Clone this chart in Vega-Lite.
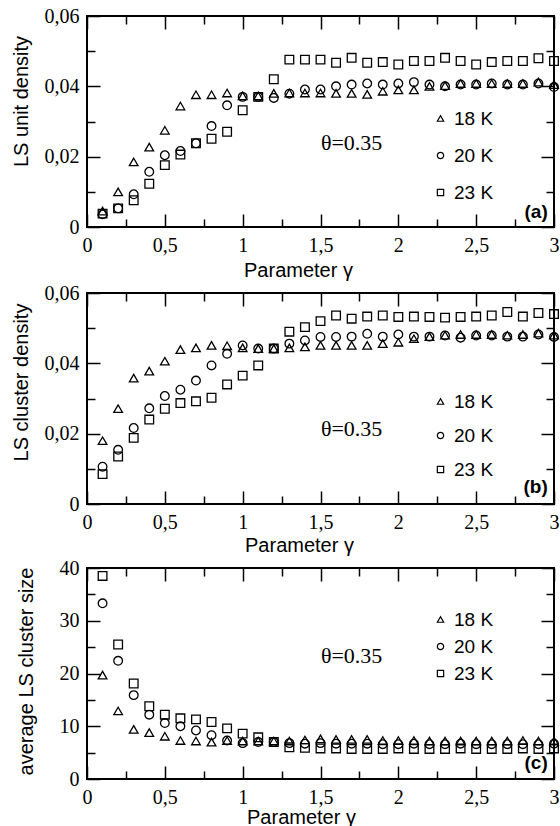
{
"$schema": "https://vega.github.io/schema/vega-lite/v6.json",
"background": "white",
"padding": {"left": 10, "top": 5, "right": 5, "bottom": 5},
"spacing": 1,
"datasets": {
"a": [
{"x":0.1,"y":0.0045,"s":"18 K"},{"x":0.2,"y":0.0100,"s":"18 K"},{"x":0.3,"y":0.0185,"s":"18 K"},{"x":0.4,"y":0.0227,"s":"18 K"},{"x":0.5,"y":0.0275,"s":"18 K"},{"x":0.6,"y":0.0344,"s":"18 K"},{"x":0.7,"y":0.0376,"s":"18 K"},{"x":0.8,"y":0.0376,"s":"18 K"},{"x":0.9,"y":0.0381,"s":"18 K"},{"x":1.0,"y":0.0373,"s":"18 K"},{"x":1.1,"y":0.0373,"s":"18 K"},{"x":1.2,"y":0.0380,"s":"18 K"},{"x":1.3,"y":0.0381,"s":"18 K"},{"x":1.4,"y":0.0381,"s":"18 K"},{"x":1.5,"y":0.0381,"s":"18 K"},{"x":1.6,"y":0.0380,"s":"18 K"},{"x":1.7,"y":0.0380,"s":"18 K"},{"x":1.8,"y":0.0377,"s":"18 K"},{"x":1.9,"y":0.0386,"s":"18 K"},{"x":2.0,"y":0.0390,"s":"18 K"},{"x":2.1,"y":0.0390,"s":"18 K"},{"x":2.2,"y":0.0400,"s":"18 K"},{"x":2.3,"y":0.0402,"s":"18 K"},{"x":2.4,"y":0.0408,"s":"18 K"},{"x":2.5,"y":0.0408,"s":"18 K"},{"x":2.6,"y":0.0408,"s":"18 K"},{"x":2.7,"y":0.0408,"s":"18 K"},{"x":2.8,"y":0.0408,"s":"18 K"},{"x":2.9,"y":0.0412,"s":"18 K"},{"x":3.0,"y":0.0405,"s":"18 K"},
{"x":0.1,"y":0.0036,"s":"20 K"},{"x":0.2,"y":0.0053,"s":"20 K"},{"x":0.3,"y":0.0093,"s":"20 K"},{"x":0.4,"y":0.0157,"s":"20 K"},{"x":0.5,"y":0.0204,"s":"20 K"},{"x":0.6,"y":0.0216,"s":"20 K"},{"x":0.7,"y":0.0238,"s":"20 K"},{"x":0.8,"y":0.0287,"s":"20 K"},{"x":0.9,"y":0.0346,"s":"20 K"},{"x":1.0,"y":0.0370,"s":"20 K"},{"x":1.1,"y":0.0370,"s":"20 K"},{"x":1.2,"y":0.0367,"s":"20 K"},{"x":1.3,"y":0.0379,"s":"20 K"},{"x":1.4,"y":0.0391,"s":"20 K"},{"x":1.5,"y":0.0391,"s":"20 K"},{"x":1.6,"y":0.0400,"s":"20 K"},{"x":1.7,"y":0.0405,"s":"20 K"},{"x":1.8,"y":0.0408,"s":"20 K"},{"x":1.9,"y":0.0405,"s":"20 K"},{"x":2.0,"y":0.0408,"s":"20 K"},{"x":2.1,"y":0.0412,"s":"20 K"},{"x":2.2,"y":0.0405,"s":"20 K"},{"x":2.3,"y":0.0400,"s":"20 K"},{"x":2.4,"y":0.0405,"s":"20 K"},{"x":2.5,"y":0.0405,"s":"20 K"},{"x":2.6,"y":0.0408,"s":"20 K"},{"x":2.7,"y":0.0405,"s":"20 K"},{"x":2.8,"y":0.0405,"s":"20 K"},{"x":2.9,"y":0.0408,"s":"20 K"},{"x":3.0,"y":0.0398,"s":"20 K"},
{"x":0.1,"y":0.0038,"s":"23 K"},{"x":0.2,"y":0.0053,"s":"23 K"},{"x":0.3,"y":0.0076,"s":"23 K"},{"x":0.4,"y":0.0123,"s":"23 K"},{"x":0.5,"y":0.0176,"s":"23 K"},{"x":0.6,"y":0.0206,"s":"23 K"},{"x":0.7,"y":0.0238,"s":"23 K"},{"x":0.8,"y":0.0251,"s":"23 K"},{"x":0.9,"y":0.0271,"s":"23 K"},{"x":1.0,"y":0.0332,"s":"23 K"},{"x":1.1,"y":0.0370,"s":"23 K"},{"x":1.2,"y":0.0420,"s":"23 K"},{"x":1.3,"y":0.0476,"s":"23 K"},{"x":1.4,"y":0.0476,"s":"23 K"},{"x":1.5,"y":0.0476,"s":"23 K"},{"x":1.6,"y":0.0467,"s":"23 K"},{"x":1.7,"y":0.0481,"s":"23 K"},{"x":1.8,"y":0.0467,"s":"23 K"},{"x":1.9,"y":0.0469,"s":"23 K"},{"x":2.0,"y":0.0462,"s":"23 K"},{"x":2.1,"y":0.0472,"s":"23 K"},{"x":2.2,"y":0.0472,"s":"23 K"},{"x":2.3,"y":0.0481,"s":"23 K"},{"x":2.4,"y":0.0472,"s":"23 K"},{"x":2.5,"y":0.0462,"s":"23 K"},{"x":2.6,"y":0.0469,"s":"23 K"},{"x":2.7,"y":0.0472,"s":"23 K"},{"x":2.8,"y":0.0472,"s":"23 K"},{"x":2.9,"y":0.0480,"s":"23 K"},{"x":3.0,"y":0.0472,"s":"23 K"}
],
"b": [
{"x":0.1,"y":0.0180,"s":"18 K"},{"x":0.2,"y":0.0271,"s":"18 K"},{"x":0.3,"y":0.0358,"s":"18 K"},{"x":0.4,"y":0.0378,"s":"18 K"},{"x":0.5,"y":0.0406,"s":"18 K"},{"x":0.6,"y":0.0439,"s":"18 K"},{"x":0.7,"y":0.0444,"s":"18 K"},{"x":0.8,"y":0.0451,"s":"18 K"},{"x":0.9,"y":0.0450,"s":"18 K"},{"x":1.0,"y":0.0444,"s":"18 K"},{"x":1.1,"y":0.0442,"s":"18 K"},{"x":1.2,"y":0.0442,"s":"18 K"},{"x":1.3,"y":0.0444,"s":"18 K"},{"x":1.4,"y":0.0447,"s":"18 K"},{"x":1.5,"y":0.0451,"s":"18 K"},{"x":1.6,"y":0.0451,"s":"18 K"},{"x":1.7,"y":0.0451,"s":"18 K"},{"x":1.8,"y":0.0451,"s":"18 K"},{"x":1.9,"y":0.0456,"s":"18 K"},{"x":2.0,"y":0.0460,"s":"18 K"},{"x":2.1,"y":0.0470,"s":"18 K"},{"x":2.2,"y":0.0476,"s":"18 K"},{"x":2.3,"y":0.0480,"s":"18 K"},{"x":2.4,"y":0.0482,"s":"18 K"},{"x":2.5,"y":0.0482,"s":"18 K"},{"x":2.6,"y":0.0482,"s":"18 K"},{"x":2.7,"y":0.0480,"s":"18 K"},{"x":2.8,"y":0.0482,"s":"18 K"},{"x":2.9,"y":0.0486,"s":"18 K"},{"x":3.0,"y":0.0480,"s":"18 K"},
{"x":0.1,"y":0.0106,"s":"20 K"},{"x":0.2,"y":0.0154,"s":"20 K"},{"x":0.3,"y":0.0216,"s":"20 K"},{"x":0.4,"y":0.0272,"s":"20 K"},{"x":0.5,"y":0.0307,"s":"20 K"},{"x":0.6,"y":0.0325,"s":"20 K"},{"x":0.7,"y":0.0351,"s":"20 K"},{"x":0.8,"y":0.0394,"s":"20 K"},{"x":0.9,"y":0.0427,"s":"20 K"},{"x":1.0,"y":0.0451,"s":"20 K"},{"x":1.1,"y":0.0442,"s":"20 K"},{"x":1.2,"y":0.0442,"s":"20 K"},{"x":1.3,"y":0.0456,"s":"20 K"},{"x":1.4,"y":0.0465,"s":"20 K"},{"x":1.5,"y":0.0475,"s":"20 K"},{"x":1.6,"y":0.0475,"s":"20 K"},{"x":1.7,"y":0.0476,"s":"20 K"},{"x":1.8,"y":0.0484,"s":"20 K"},{"x":1.9,"y":0.0476,"s":"20 K"},{"x":2.0,"y":0.0482,"s":"20 K"},{"x":2.1,"y":0.0476,"s":"20 K"},{"x":2.2,"y":0.0476,"s":"20 K"},{"x":2.3,"y":0.0479,"s":"20 K"},{"x":2.4,"y":0.0473,"s":"20 K"},{"x":2.5,"y":0.0479,"s":"20 K"},{"x":2.6,"y":0.0479,"s":"20 K"},{"x":2.7,"y":0.0476,"s":"20 K"},{"x":2.8,"y":0.0476,"s":"20 K"},{"x":2.9,"y":0.0482,"s":"20 K"},{"x":3.0,"y":0.0475,"s":"20 K"},
{"x":0.1,"y":0.0085,"s":"23 K"},{"x":0.2,"y":0.0135,"s":"23 K"},{"x":0.3,"y":0.0188,"s":"23 K"},{"x":0.4,"y":0.0240,"s":"23 K"},{"x":0.5,"y":0.0271,"s":"23 K"},{"x":0.6,"y":0.0287,"s":"23 K"},{"x":0.7,"y":0.0292,"s":"23 K"},{"x":0.8,"y":0.0302,"s":"23 K"},{"x":0.9,"y":0.0340,"s":"23 K"},{"x":1.0,"y":0.0365,"s":"23 K"},{"x":1.1,"y":0.0394,"s":"23 K"},{"x":1.2,"y":0.0442,"s":"23 K"},{"x":1.3,"y":0.0490,"s":"23 K"},{"x":1.4,"y":0.0503,"s":"23 K"},{"x":1.5,"y":0.0520,"s":"23 K"},{"x":1.6,"y":0.0536,"s":"23 K"},{"x":1.7,"y":0.0527,"s":"23 K"},{"x":1.8,"y":0.0533,"s":"23 K"},{"x":1.9,"y":0.0536,"s":"23 K"},{"x":2.0,"y":0.0532,"s":"23 K"},{"x":2.1,"y":0.0533,"s":"23 K"},{"x":2.2,"y":0.0532,"s":"23 K"},{"x":2.3,"y":0.0530,"s":"23 K"},{"x":2.4,"y":0.0532,"s":"23 K"},{"x":2.5,"y":0.0533,"s":"23 K"},{"x":2.6,"y":0.0536,"s":"23 K"},{"x":2.7,"y":0.0546,"s":"23 K"},{"x":2.8,"y":0.0533,"s":"23 K"},{"x":2.9,"y":0.0543,"s":"23 K"},{"x":3.0,"y":0.0540,"s":"23 K"}
],
"c": [
{"x":0.1,"y":19.7,"s":"18 K"},{"x":0.2,"y":12.9,"s":"18 K"},{"x":0.3,"y":9.4,"s":"18 K"},{"x":0.4,"y":8.8,"s":"18 K"},{"x":0.5,"y":8.1,"s":"18 K"},{"x":0.6,"y":7.3,"s":"18 K"},{"x":0.7,"y":7.2,"s":"18 K"},{"x":0.8,"y":7.0,"s":"18 K"},{"x":0.9,"y":7.3,"s":"18 K"},{"x":1.0,"y":7.2,"s":"18 K"},{"x":1.1,"y":7.2,"s":"18 K"},{"x":1.2,"y":7.2,"s":"18 K"},{"x":1.3,"y":7.2,"s":"18 K"},{"x":1.4,"y":7.4,"s":"18 K"},{"x":1.5,"y":7.6,"s":"18 K"},{"x":1.6,"y":7.5,"s":"18 K"},{"x":1.7,"y":7.5,"s":"18 K"},{"x":1.8,"y":7.5,"s":"18 K"},{"x":1.9,"y":7.3,"s":"18 K"},{"x":2.0,"y":7.3,"s":"18 K"},{"x":2.1,"y":7.3,"s":"18 K"},{"x":2.2,"y":7.2,"s":"18 K"},{"x":2.3,"y":7.2,"s":"18 K"},{"x":2.4,"y":7.2,"s":"18 K"},{"x":2.5,"y":7.2,"s":"18 K"},{"x":2.6,"y":7.2,"s":"18 K"},{"x":2.7,"y":7.2,"s":"18 K"},{"x":2.8,"y":7.3,"s":"18 K"},{"x":2.9,"y":7.2,"s":"18 K"},{"x":3.0,"y":7.2,"s":"18 K"},
{"x":0.1,"y":33.3,"s":"20 K"},{"x":0.2,"y":22.4,"s":"20 K"},{"x":0.3,"y":15.9,"s":"20 K"},{"x":0.4,"y":12.2,"s":"20 K"},{"x":0.5,"y":10.6,"s":"20 K"},{"x":0.6,"y":10.0,"s":"20 K"},{"x":0.7,"y":9.2,"s":"20 K"},{"x":0.8,"y":8.3,"s":"20 K"},{"x":0.9,"y":7.3,"s":"20 K"},{"x":1.0,"y":6.8,"s":"20 K"},{"x":1.1,"y":7.0,"s":"20 K"},{"x":1.2,"y":7.0,"s":"20 K"},{"x":1.3,"y":6.8,"s":"20 K"},{"x":1.4,"y":6.7,"s":"20 K"},{"x":1.5,"y":6.8,"s":"20 K"},{"x":1.6,"y":6.7,"s":"20 K"},{"x":1.7,"y":6.7,"s":"20 K"},{"x":1.8,"y":6.7,"s":"20 K"},{"x":1.9,"y":6.6,"s":"20 K"},{"x":2.0,"y":6.6,"s":"20 K"},{"x":2.1,"y":6.7,"s":"20 K"},{"x":2.2,"y":6.6,"s":"20 K"},{"x":2.3,"y":6.6,"s":"20 K"},{"x":2.4,"y":6.7,"s":"20 K"},{"x":2.5,"y":6.6,"s":"20 K"},{"x":2.6,"y":6.6,"s":"20 K"},{"x":2.7,"y":6.6,"s":"20 K"},{"x":2.8,"y":6.6,"s":"20 K"},{"x":2.9,"y":6.6,"s":"20 K"},{"x":3.0,"y":6.7,"s":"20 K"},
{"x":0.1,"y":38.5,"s":"23 K"},{"x":0.2,"y":25.5,"s":"23 K"},{"x":0.3,"y":18.1,"s":"23 K"},{"x":0.4,"y":13.8,"s":"23 K"},{"x":0.5,"y":12.2,"s":"23 K"},{"x":0.6,"y":11.5,"s":"23 K"},{"x":0.7,"y":11.3,"s":"23 K"},{"x":0.8,"y":10.8,"s":"23 K"},{"x":0.9,"y":9.6,"s":"23 K"},{"x":1.0,"y":8.6,"s":"23 K"},{"x":1.1,"y":7.9,"s":"23 K"},{"x":1.2,"y":7.0,"s":"23 K"},{"x":1.3,"y":6.0,"s":"23 K"},{"x":1.4,"y":5.9,"s":"23 K"},{"x":1.5,"y":5.8,"s":"23 K"},{"x":1.6,"y":5.8,"s":"23 K"},{"x":1.7,"y":5.7,"s":"23 K"},{"x":1.8,"y":5.7,"s":"23 K"},{"x":1.9,"y":5.7,"s":"23 K"},{"x":2.0,"y":5.8,"s":"23 K"},{"x":2.1,"y":5.7,"s":"23 K"},{"x":2.2,"y":5.7,"s":"23 K"},{"x":2.3,"y":5.7,"s":"23 K"},{"x":2.4,"y":5.8,"s":"23 K"},{"x":2.5,"y":5.7,"s":"23 K"},{"x":2.6,"y":5.7,"s":"23 K"},{"x":2.7,"y":5.7,"s":"23 K"},{"x":2.8,"y":5.8,"s":"23 K"},{"x":2.9,"y":5.7,"s":"23 K"},{"x":3.0,"y":5.8,"s":"23 K"}
]
},
"vconcat": [
{
"width": 467, "height": 211,
"data": {"name": "a"},
"resolve": {"axis": {"x": "independent", "y": "independent"}},
"layer": [
{"mark": {"type": "point", "filled": false, "size": 75, "strokeWidth": 1.3, "color": "black", "opacity": 1},
 "encoding": {
  "x": {"field": "x", "type": "quantitative", "scale": {"domain": [0, 3], "nice": false, "zero": false},
   "axis": {"orient": "bottom", "values": [0,0.5,1,1.5,2,2.5,3], "ticks": false, "domain": false, "grid": false, "labelExpr": "replace(format(datum.value,'~g'),'.',',')", "labelFont": "Liberation Serif", "labelFontSize": 20, "labelColor": "black", "labelFlush": false, "labelPadding": 8, "title": "Parameter γ", "titleFont": "Liberation Sans", "titleFontSize": 20, "titleFontWeight": "normal", "titleColor": "black", "titleX": 211, "titleY": 49, "titleBaseline": "alphabetic", "titleAlign": "center"}},
  "y": {"field": "y", "type": "quantitative", "scale": {"domain": [0, 0.06], "nice": false, "zero": false},
   "axis": {"orient": "left", "values": [0,0.02,0.04,0.06], "ticks": false, "domain": false, "grid": false, "labelExpr": "datum.value==0?'0':replace(format(datum.value,'.2f'),'.',',')", "labelFont": "Liberation Serif", "labelFontSize": 20, "labelColor": "black", "labelPadding": 8, "title": "LS unit density", "titleFont": "Liberation Sans", "titleFontSize": 20, "titleFontWeight": "normal", "titleColor": "black", "titleX": -60, "titleY": 85, "titleAngle": 270, "titleBaseline": "alphabetic", "titleAlign": "center"}},
  "shape": {"field": "s", "type": "nominal", "scale": {"domain": ["18 K","20 K","23 K"], "range": ["triangle-up","circle","square"]},
   "legend": {"orient": "none", "legendX": 344, "legendY": 93, "title": null, "rowPadding": 17, "padding": 0, "labelFont": "Liberation Sans", "labelFontSize": 19, "labelColor": "black", "symbolSize": 40, "symbolStrokeColor": "black", "symbolStrokeWidth": 1.2, "symbolFillColor": "transparent", "labelOffset": 4}}
 }},
{"data": {"values": [{"x": 1.7, "y": 0.0239, "t": "θ=0.35"}]},
 "mark": {"type": "text", "font": "Liberation Serif", "fontSize": 22, "color": "black"},
 "encoding": {
  "x": {"field": "x", "type": "quantitative", "axis": {"orient": "bottom", "values": [0,0.5,1,1.5,2,2.5,3], "labels": false, "domain": false, "grid": false, "ticks": true, "tickColor": "black", "tickWidth": 1.5, "tickSize": 13, "offset": -13, "title": null}},
  "y": {"field": "y", "type": "quantitative", "axis": {"orient": "left", "values": [0,0.02,0.04,0.06], "labels": false, "domain": false, "grid": false, "ticks": true, "tickColor": "black", "tickWidth": 1.5, "tickSize": 13, "offset": -13, "title": null}},
  "text": {"field": "t"}
 }},
{"data": {"values": [{"x": 2.96, "y": 0.0042, "t": "(a)"}]},
 "mark": {"type": "text", "font": "Liberation Sans", "fontSize": 19, "fontWeight": "bold", "align": "right", "color": "black"},
 "encoding": {
  "x": {"field": "x", "type": "quantitative", "axis": {"orient": "top", "values": [0,0.5,1,1.5,2,2.5,3], "labels": false, "domain": false, "grid": false, "ticks": true, "tickColor": "black", "tickWidth": 1.5, "tickSize": 13, "offset": -13, "title": null}},
  "y": {"field": "y", "type": "quantitative", "axis": {"orient": "right", "values": [0,0.02,0.04,0.06], "labels": false, "domain": false, "grid": false, "ticks": true, "tickColor": "black", "tickWidth": 1.5, "tickSize": 13, "offset": -13, "title": null}},
  "text": {"field": "t"}
 }},
{"mark": {"type": "point", "opacity": 0},
 "encoding": {
  "x": {"field": "x", "type": "quantitative", "axis": {"orient": "bottom", "values": [0.25,0.75,1.25,1.75,2.25,2.75], "labels": false, "domain": false, "grid": false, "ticks": true, "tickColor": "black", "tickWidth": 1.5, "tickSize": 8, "offset": -8, "title": null}},
  "y": {"field": "y", "type": "quantitative", "axis": {"orient": "left", "values": [0.01,0.03,0.05], "labels": false, "domain": false, "grid": false, "ticks": true, "tickColor": "black", "tickWidth": 1.5, "tickSize": 8, "offset": -8, "title": null}}
 }},
{"mark": {"type": "point", "opacity": 0},
 "encoding": {
  "x": {"field": "x", "type": "quantitative", "axis": {"orient": "top", "values": [0.25,0.75,1.25,1.75,2.25,2.75], "labels": false, "domain": false, "grid": false, "ticks": true, "tickColor": "black", "tickWidth": 1.5, "tickSize": 8, "offset": -8, "title": null}},
  "y": {"field": "y", "type": "quantitative", "axis": {"orient": "right", "values": [0.01,0.03,0.05], "labels": false, "domain": false, "grid": false, "ticks": true, "tickColor": "black", "tickWidth": 1.5, "tickSize": 8, "offset": -8, "title": null}}
 }}
]
},
{
"width": 467, "height": 211,
"data": {"name": "b"},
"resolve": {"axis": {"x": "independent", "y": "independent"}},
"layer": [
{"mark": {"type": "point", "filled": false, "size": 75, "strokeWidth": 1.3, "color": "black", "opacity": 1},
 "encoding": {
  "x": {"field": "x", "type": "quantitative", "scale": {"domain": [0, 3], "nice": false, "zero": false},
   "axis": {"orient": "bottom", "values": [0,0.5,1,1.5,2,2.5,3], "ticks": false, "domain": false, "grid": false, "labelExpr": "replace(format(datum.value,'~g'),'.',',')", "labelFont": "Liberation Serif", "labelFontSize": 20, "labelColor": "black", "labelFlush": false, "labelPadding": 8, "title": "Parameter γ", "titleFont": "Liberation Sans", "titleFontSize": 20, "titleFontWeight": "normal", "titleColor": "black", "titleX": 212, "titleY": 47, "titleBaseline": "alphabetic", "titleAlign": "center"}},
  "y": {"field": "y", "type": "quantitative", "scale": {"domain": [0, 0.06], "nice": false, "zero": false},
   "axis": {"orient": "left", "values": [0,0.02,0.04,0.06], "ticks": false, "domain": false, "grid": false, "labelExpr": "datum.value==0?'0':replace(format(datum.value,'.2f'),'.',',')", "labelFont": "Liberation Serif", "labelFontSize": 20, "labelColor": "black", "labelPadding": 8, "title": "LS cluster density", "titleFont": "Liberation Sans", "titleFontSize": 20, "titleFontWeight": "normal", "titleColor": "black", "titleX": -60, "titleY": 89, "titleAngle": 270, "titleBaseline": "alphabetic", "titleAlign": "center"}},
  "shape": {"field": "s", "type": "nominal", "scale": {"domain": ["18 K","20 K","23 K"], "range": ["triangle-up","circle","square"]},
   "legend": {"orient": "none", "legendX": 344, "legendY": 99, "title": null, "rowPadding": 14, "padding": 0, "labelFont": "Liberation Sans", "labelFontSize": 19, "labelColor": "black", "symbolSize": 40, "symbolStrokeColor": "black", "symbolStrokeWidth": 1.2, "symbolFillColor": "transparent", "labelOffset": 4}}
 }},
{"data": {"values": [{"x": 1.7, "y": 0.0213, "t": "θ=0.35"}]},
 "mark": {"type": "text", "font": "Liberation Serif", "fontSize": 22, "color": "black"},
 "encoding": {
  "x": {"field": "x", "type": "quantitative", "axis": {"orient": "bottom", "values": [0,0.5,1,1.5,2,2.5,3], "labels": false, "domain": false, "grid": false, "ticks": true, "tickColor": "black", "tickWidth": 1.5, "tickSize": 13, "offset": -13, "title": null}},
  "y": {"field": "y", "type": "quantitative", "axis": {"orient": "left", "values": [0,0.02,0.04,0.06], "labels": false, "domain": false, "grid": false, "ticks": true, "tickColor": "black", "tickWidth": 1.5, "tickSize": 13, "offset": -13, "title": null}},
  "text": {"field": "t"}
 }},
{"data": {"values": [{"x": 2.96, "y": 0.0048, "t": "(b)"}]},
 "mark": {"type": "text", "font": "Liberation Sans", "fontSize": 19, "fontWeight": "bold", "align": "right", "color": "black"},
 "encoding": {
  "x": {"field": "x", "type": "quantitative", "axis": {"orient": "top", "values": [0,0.5,1,1.5,2,2.5,3], "labels": false, "domain": false, "grid": false, "ticks": true, "tickColor": "black", "tickWidth": 1.5, "tickSize": 13, "offset": -13, "title": null}},
  "y": {"field": "y", "type": "quantitative", "axis": {"orient": "right", "values": [0,0.02,0.04,0.06], "labels": false, "domain": false, "grid": false, "ticks": true, "tickColor": "black", "tickWidth": 1.5, "tickSize": 13, "offset": -13, "title": null}},
  "text": {"field": "t"}
 }},
{"mark": {"type": "point", "opacity": 0},
 "encoding": {
  "x": {"field": "x", "type": "quantitative", "axis": {"orient": "bottom", "values": [0.25,0.75,1.25,1.75,2.25,2.75], "labels": false, "domain": false, "grid": false, "ticks": true, "tickColor": "black", "tickWidth": 1.5, "tickSize": 8, "offset": -8, "title": null}},
  "y": {"field": "y", "type": "quantitative", "axis": {"orient": "left", "values": [0.01,0.03,0.05], "labels": false, "domain": false, "grid": false, "ticks": true, "tickColor": "black", "tickWidth": 1.5, "tickSize": 8, "offset": -8, "title": null}}
 }},
{"mark": {"type": "point", "opacity": 0},
 "encoding": {
  "x": {"field": "x", "type": "quantitative", "axis": {"orient": "top", "values": [0.25,0.75,1.25,1.75,2.25,2.75], "labels": false, "domain": false, "grid": false, "ticks": true, "tickColor": "black", "tickWidth": 1.5, "tickSize": 8, "offset": -8, "title": null}},
  "y": {"field": "y", "type": "quantitative", "axis": {"orient": "right", "values": [0.01,0.03,0.05], "labels": false, "domain": false, "grid": false, "ticks": true, "tickColor": "black", "tickWidth": 1.5, "tickSize": 8, "offset": -8, "title": null}}
 }}
]
},
{
"width": 467, "height": 211,
"data": {"name": "c"},
"resolve": {"axis": {"x": "independent", "y": "independent"}},
"layer": [
{"mark": {"type": "point", "filled": false, "size": 75, "strokeWidth": 1.3, "color": "black", "opacity": 1},
 "encoding": {
  "x": {"field": "x", "type": "quantitative", "scale": {"domain": [0, 3], "nice": false, "zero": false},
   "axis": {"orient": "bottom", "values": [0,0.5,1,1.5,2,2.5,3], "ticks": false, "domain": false, "grid": false, "labelExpr": "replace(format(datum.value,'~g'),'.',',')", "labelFont": "Liberation Serif", "labelFontSize": 20, "labelColor": "black", "labelFlush": false, "labelPadding": 8, "title": "Parameter γ", "titleFont": "Liberation Sans", "titleFontSize": 20, "titleFontWeight": "normal", "titleColor": "black", "titleX": 214, "titleY": 44, "titleBaseline": "alphabetic", "titleAlign": "center"}},
  "y": {"field": "y", "type": "quantitative", "scale": {"domain": [0, 40], "nice": false, "zero": false},
   "axis": {"orient": "left", "values": [0,10,20,30,40], "ticks": false, "domain": false, "grid": false, "labelFont": "Liberation Serif", "labelFontSize": 20, "labelColor": "black", "labelPadding": 8, "title": "average LS cluster size", "titleFont": "Liberation Sans", "titleFontSize": 20, "titleFontWeight": "normal", "titleColor": "black", "titleX": -55, "titleY": 103, "titleAngle": 270, "titleBaseline": "alphabetic", "titleAlign": "center"}},
  "shape": {"field": "s", "type": "nominal", "scale": {"domain": ["18 K","20 K","23 K"], "range": ["triangle-up","circle","square"]},
   "legend": {"orient": "none", "legendX": 344, "legendY": 42, "title": null, "rowPadding": 7, "padding": 0, "labelFont": "Liberation Sans", "labelFontSize": 19, "labelColor": "black", "symbolSize": 40, "symbolStrokeColor": "black", "symbolStrokeWidth": 1.2, "symbolFillColor": "transparent", "labelOffset": 4}}
 }},
{"data": {"values": [{"x": 1.7, "y": 23.3, "t": "θ=0.35"}]},
 "mark": {"type": "text", "font": "Liberation Serif", "fontSize": 22, "color": "black"},
 "encoding": {
  "x": {"field": "x", "type": "quantitative", "axis": {"orient": "bottom", "values": [0,0.5,1,1.5,2,2.5,3], "labels": false, "domain": false, "grid": false, "ticks": true, "tickColor": "black", "tickWidth": 1.5, "tickSize": 13, "offset": -13, "title": null}},
  "y": {"field": "y", "type": "quantitative", "axis": {"orient": "left", "values": [0,10,20,30,40], "labels": false, "domain": false, "grid": false, "ticks": true, "tickColor": "black", "tickWidth": 1.5, "tickSize": 13, "offset": -13, "title": null}},
  "text": {"field": "t"}
 }},
{"data": {"values": [{"x": 2.96, "y": 3.1, "t": "(c)"}]},
 "mark": {"type": "text", "font": "Liberation Sans", "fontSize": 19, "fontWeight": "bold", "align": "right", "color": "black"},
 "encoding": {
  "x": {"field": "x", "type": "quantitative", "axis": {"orient": "top", "values": [0,0.5,1,1.5,2,2.5,3], "labels": false, "domain": false, "grid": false, "ticks": true, "tickColor": "black", "tickWidth": 1.5, "tickSize": 13, "offset": -13, "title": null}},
  "y": {"field": "y", "type": "quantitative", "axis": {"orient": "right", "values": [0,10,20,30,40], "labels": false, "domain": false, "grid": false, "ticks": true, "tickColor": "black", "tickWidth": 1.5, "tickSize": 13, "offset": -13, "title": null}},
  "text": {"field": "t"}
 }},
{"mark": {"type": "point", "opacity": 0},
 "encoding": {
  "x": {"field": "x", "type": "quantitative", "axis": {"orient": "bottom", "values": [0.25,0.75,1.25,1.75,2.25,2.75], "labels": false, "domain": false, "grid": false, "ticks": true, "tickColor": "black", "tickWidth": 1.5, "tickSize": 8, "offset": -8, "title": null}},
  "y": {"field": "y", "type": "quantitative", "axis": {"orient": "left", "values": [5,15,25,35], "labels": false, "domain": false, "grid": false, "ticks": true, "tickColor": "black", "tickWidth": 1.5, "tickSize": 8, "offset": -8, "title": null}}
 }},
{"mark": {"type": "point", "opacity": 0},
 "encoding": {
  "x": {"field": "x", "type": "quantitative", "axis": {"orient": "top", "values": [0.25,0.75,1.25,1.75,2.25,2.75], "labels": false, "domain": false, "grid": false, "ticks": true, "tickColor": "black", "tickWidth": 1.5, "tickSize": 8, "offset": -8, "title": null}},
  "y": {"field": "y", "type": "quantitative", "axis": {"orient": "right", "values": [5,15,25,35], "labels": false, "domain": false, "grid": false, "ticks": true, "tickColor": "black", "tickWidth": 1.5, "tickSize": 8, "offset": -8, "title": null}}
 }}
]
}
],
"resolve": {"scale": {"shape": "independent"}, "legend": {"shape": "independent"}},
"config": {
 "view": {"stroke": "black", "strokeWidth": 2}
}
}
